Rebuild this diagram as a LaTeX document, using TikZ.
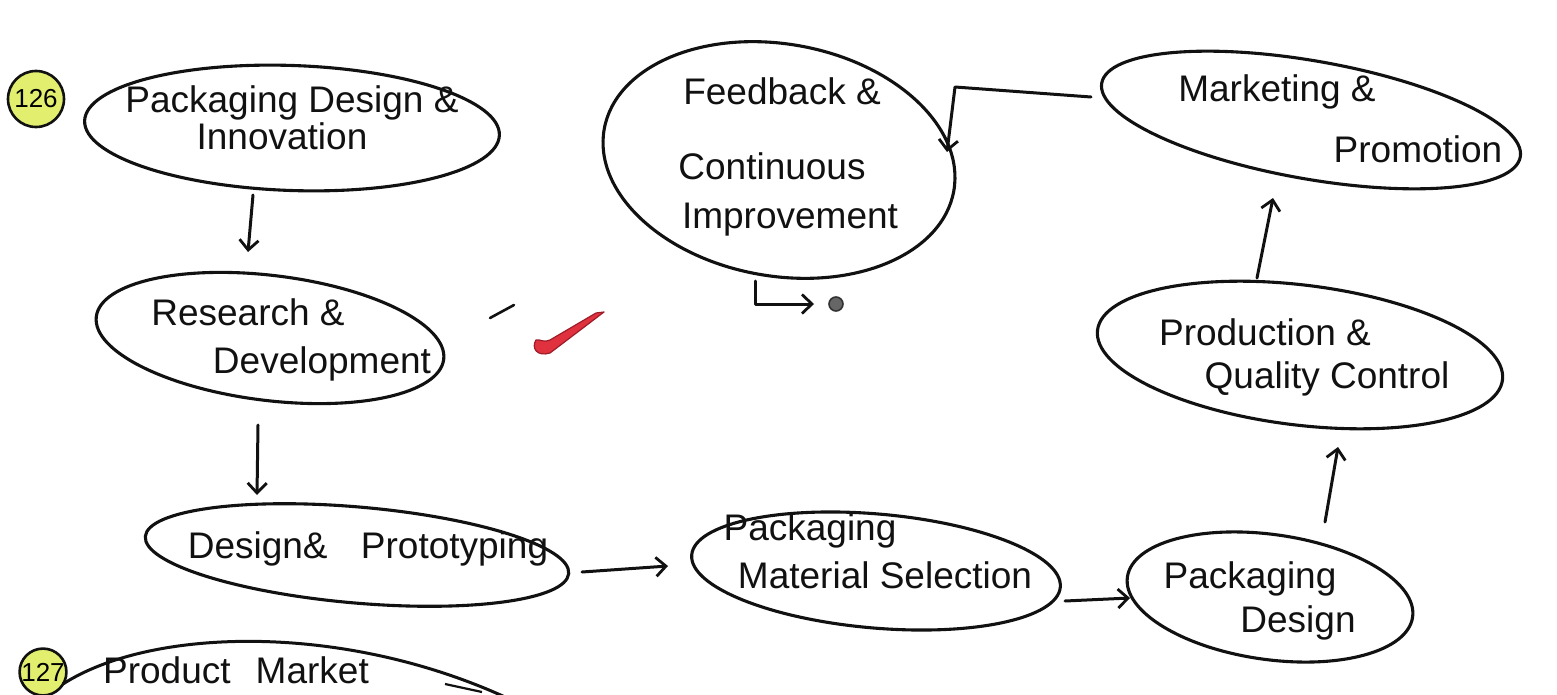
\documentclass[tikz,border=0pt]{standalone}
\usepackage{fontspec}
\setmainfont{Liberation Sans}
\usetikzlibrary{shapes.geometric,arrows.meta,calc}
\definecolor{badgefill}{HTML}{E2EF6E}
\definecolor{tickred}{HTML}{E0313F}
\definecolor{tickdark}{HTML}{9E1C28}
\definecolor{ink}{HTML}{111111}
\begin{document}
\begin{tikzpicture}[x=1pt,y=-1pt,
  blob/.style={draw=ink, ellipse, line width=3.1pt, inner sep=0pt},
  lbl/.style={font=\fontsize{37}{40}\selectfont, inner sep=0pt, anchor=base, text=ink},
  flow/.style={draw=ink, line width=3pt, line cap=round, line join=round,
    -{Straight Barb[length=10pt,width=19pt,line width=2.8pt]}},
  badge/.style={circle, draw=ink, line width=2.6pt, fill=badgefill, inner sep=0pt,
    font=\fontsize{26}{28}\selectfont},
  dotmark/.style={circle, draw=black!80, line width=1.6pt, fill=black!60, minimum size=14pt, inner sep=0pt}
]
\useasboundingbox[fill=white] (0,0) rectangle (1557,695);

% badges
\node[badge, minimum size=56pt] (b126) at (36,99) {126};
\node[badge, minimum size=46pt] (b127) at (43,672) {127};

% ellipses
\node[blob, minimum width=415pt, minimum height=125pt, rotate=-2] (pdi) at (292,128) {};
\node[blob, minimum width=350pt, minimum height=125pt, rotate=-7] (rd) at (270,338) {};
\node[blob, minimum width=425pt, minimum height=96pt, rotate=-5] (dp) at (357,555) {};
\node[blob, minimum width=370pt, minimum height=114pt, rotate=-5] (pms) at (876,571) {};
\node[blob, minimum width=288pt, minimum height=125pt, rotate=-8] (pd) at (1270,597) {};
\node[blob, minimum width=408pt, minimum height=140pt, rotate=-7] (pqc) at (1300,355) {};
\node[blob, minimum width=425pt, minimum height=118pt, rotate=-10] (mp) at (1311,120) {};
\node[blob, minimum width=355pt, minimum height=232pt, rotate=-10] (fci) at (779,160) {};

% labels
\node[lbl] at (292,113) {Packaging Design \&};
\node[lbl] at (282,150) {Innovation};
\node[lbl] at (248,325) {Research \&};
\node[lbl] at (322,373) {Development};
\node[lbl] at (368,558) {Design\&\hspace{0.9em}Prototyping};
\node[lbl] at (810,540) {Packaging};
\node[lbl] at (885,588) {Material Selection};
\node[lbl] at (1250,588) {Packaging};
\node[lbl] at (1298,632) {Design};
\node[lbl] at (1265,345) {Production \&};
\node[lbl] at (1327,388) {Quality Control};
\node[lbl] at (1277,102) {Marketing \&};
\node[lbl] at (1418,163) {Promotion};
\node[lbl] at (782,105) {Feedback \&};
\node[lbl] at (772,180) {Continuous};
\node[lbl] at (790,228) {Improvement};
\node[lbl] at (236,683) {Product\hspace{0.4em} Market};

% partial ellipse of the next item
\draw[ink, line width=3pt] (63,684) .. controls (150,628) and (340,622) .. (505,697);
\draw[ink, line width=2.2pt] (445,684) -- (482,692);

% connectors
\draw[flow] ($(pdi)+(-39,67)$) -- ($(rd)+(-22,-86)$);
\draw[flow] ($(rd)+(-12,87)$) -- ($(dp)+(-100,-60)$);
\draw[flow] ($(dp)+(225,17)$) -- ($(pms)+(-208,-5)$);
\draw[flow] ($(pms)+(189,30)$) -- ($(pd)+(-140,1)$);
\draw[flow] ($(pd)+(55,-75)$) -- ($(pqc)+(38,92)$);
\draw[flow] ($(pqc)+(-43,-77)$) -- ($(mp)+(-38,78)$);
\coordinate (bend) at (955,87);
\draw[flow] ($(mp)+(-220,-23)$) -- (bend) -- ($(fci)+(168,-8)$);

% small arrow to dot
\node[dotmark] (dot) at (836,304) {};
\draw[flow] ($(fci)+(-24,121)$) |- ($(dot)+(-22,0)$);

% red tick and stray dash
\draw[ink, line width=2.6pt, line cap=round] (490,318) -- (514,305);
\filldraw[fill=tickred, draw=tickdark, line width=1.2pt, line join=round]
  (536,340) .. controls (531,348) and (537,357) .. (550,353)
  -- (604,312) -- (596,313)
  -- (550,340) .. controls (544,343) and (540,339) .. cycle;
\end{tikzpicture}
\end{document}
